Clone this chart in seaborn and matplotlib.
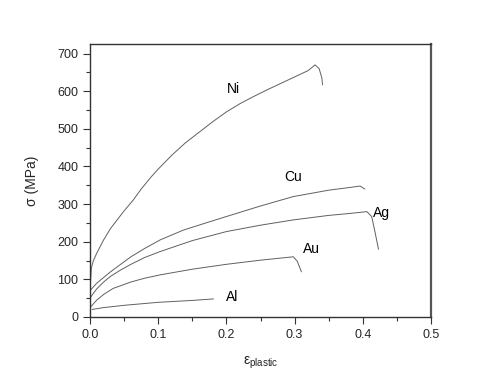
import matplotlib
matplotlib.use("Agg")
import matplotlib.pyplot as plt
import seaborn as sns
import pandas as pd
from matplotlib.ticker import MultipleLocator

ni_eps = [0.0, 0.002, 0.005, 0.01, 0.02, 0.03, 0.0415, 0.05, 0.0635, 0.075, 0.09, 0.1, 0.12, 0.14, 0.16,
          0.18, 0.2, 0.22, 0.24, 0.26, 0.28, 0.3, 0.32, 0.33, 0.336, 0.34, 0.341]
ni_sig = [70, 130, 150, 170, 205, 235, 262, 282, 311, 340, 373, 393, 430, 463, 491,
          519, 545, 567, 586, 604, 621, 638, 655, 670, 660, 635, 617]

cu_eps = [0.0, 0.005, 0.01, 0.02, 0.03, 0.045, 0.06, 0.08, 0.103, 0.137, 0.17, 0.2, 0.25, 0.298,
          0.35, 0.38, 0.396, 0.403]
cu_sig = [70, 80, 90, 105, 120, 140, 160, 182, 205, 231, 250, 267, 295, 320, 337, 344, 348, 340]

ag_eps = [0.0, 0.005, 0.01, 0.02, 0.03, 0.045, 0.06, 0.08, 0.103, 0.15, 0.2, 0.25, 0.298, 0.35,
          0.38, 0.406, 0.413, 0.418, 0.423]
ag_sig = [50, 63, 75, 93, 108, 125, 140, 158, 174, 203, 227, 244, 258, 270, 275, 280, 267, 225, 180]

au_eps = [0.0, 0.005, 0.01, 0.02, 0.034, 0.06, 0.08, 0.103, 0.15, 0.2, 0.25, 0.298, 0.304, 0.31]
au_sig = [25, 35, 45, 60, 76, 93, 103, 112, 127, 140, 151, 160, 148, 120]

al_eps = [0.003, 0.02, 0.05, 0.1, 0.15, 0.181]
al_sig = [20, 25, 31, 39, 44, 48]

metals = ["Ni", "Cu", "Ag", "Au", "Al"]
label_pos = {"Ni": (0.21, 606), "Cu": (0.298, 372), "Ag": (0.428, 277), "Au": (0.325, 181), "Al": (0.208, 53)}

frames = []
for name, e, s in [("Ni", ni_eps, ni_sig), ("Cu", cu_eps, cu_sig), ("Ag", ag_eps, ag_sig),
                   ("Au", au_eps, au_sig), ("Al", al_eps, al_sig)]:
    frames.append(pd.DataFrame({"eps": e, "sig": s, "metal": name}))
df = pd.concat(frames, ignore_index=True)

sns.set_style("ticks")
plt.rcParams['font.family'] = ['Liberation Sans', 'DejaVu Sans']
plt.rcParams['mathtext.default'] = 'regular'

fig = plt.figure(figsize=(5.0, 3.81), dpi=100)
ax = fig.add_axes([0.18, 0.168, 0.682, 0.717])

sns.lineplot(data=df, x="eps", y="sig", hue="metal", palette=["#606060"] * 5,
             estimator=None, sort=False, linewidth=0.7, legend=False, ax=ax)

for name in metals:
    x, y = label_pos[name]
    ax.text(x, y, name, ha="center", va="center", fontsize=10, color="black")

ax.set_xlim(0, 0.5)
ax.set_ylim(0, 726)
ax.xaxis.set_minor_locator(MultipleLocator(0.05))
ax.yaxis.set_major_locator(MultipleLocator(100))
ax.yaxis.set_minor_locator(MultipleLocator(50))
ax.set_xticks([0, 0.1, 0.2, 0.3, 0.4, 0.5])
ax.set_xticklabels(["0.0", "0.1", "0.2", "0.3", "0.4", "0.5"])
ax.tick_params(which="major", direction="out", length=5, width=0.8, labelsize=9, color="#333333")
ax.tick_params(which="minor", direction="out", length=3, width=0.8, color="#333333")
for sp in ax.spines.values():
    sp.set_visible(True)
    sp.set_linewidth(1.0)
    sp.set_color("#333333")
ax.spines["right"].set_linewidth(1.6)
ax.spines["right"].set_color("#555555")

ax.set_xlabel(r"$ε_{plastic}$", fontsize=10, labelpad=10)
ax.set_ylabel("σ (MPa)", fontsize=10, labelpad=13)

fig.savefig("out.png", dpi=100)
